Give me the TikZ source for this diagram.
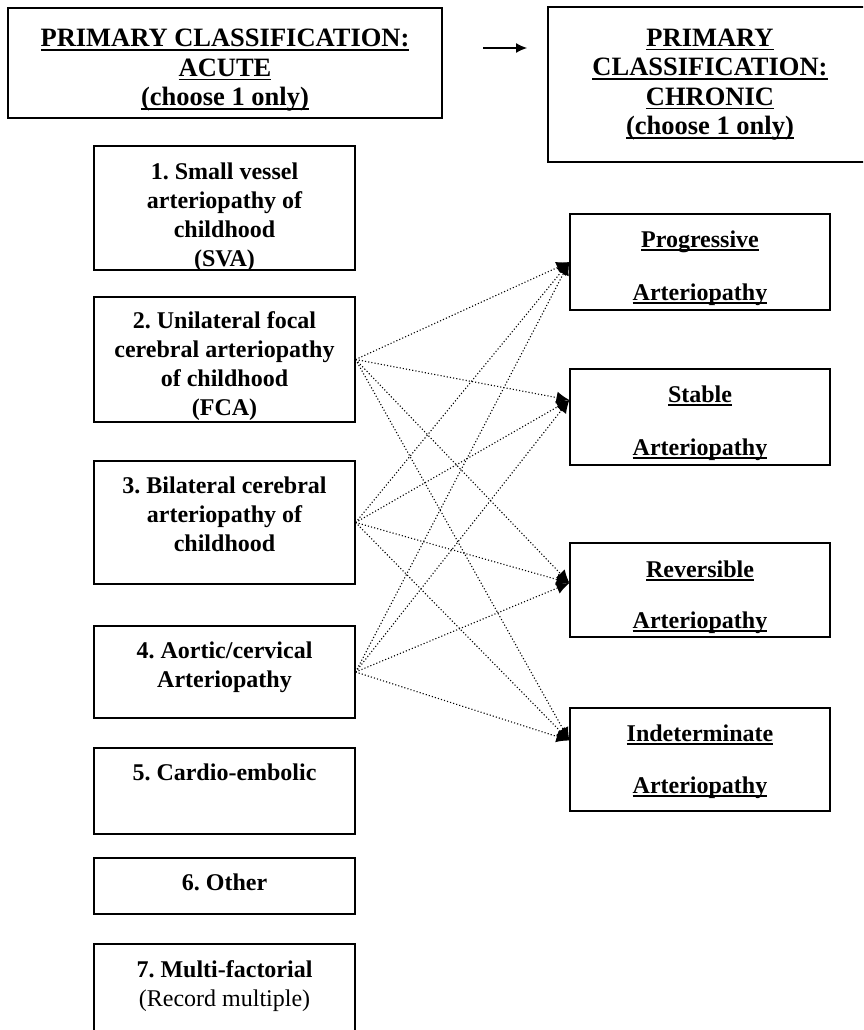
\documentclass[tikz,border=0pt]{standalone}
\usepackage{fontspec}
\setmainfont{Liberation Serif}
\usetikzlibrary{arrows.meta}
\frenchspacing
\newcommand{\undl}[1]{\setbox0\hbox{#1}\rlap{\rule[-4pt]{\wd0}{1.8pt}}\box0}
\tikzset{
  classbox/.style={draw, line width=1.2pt, inner sep=0pt},
  leftbox/.style={classbox, minimum width=261pt},
  rightbox/.style={classbox, minimum width=260pt},
  boxtext/.style={font=\bfseries\fontsize{24}{29}\selectfont, align=center, anchor=base, inner sep=0pt},
  headtext/.style={boxtext, font=\bfseries\fontsize{26.5}{29.5}\selectfont},
  link/.style={line width=1.1pt, dash pattern=on 1.1pt off 2.1pt, -{Latex[length=13pt,width=12pt]}},
}

\begin{document}
\begin{tikzpicture}[x=1pt,y=-1pt]
    \clip (0,0) rectangle (863,1030);
    \useasboundingbox (0,0) rectangle (863,1030);
    %Acute heading (text placed by its last baseline)
    \node[classbox, minimum width=434pt, minimum height=110pt] (acute) at (225,63) {};
    \node[headtext] (acutetext) at (225,106) {\undl{PRIMARY CLASSIFICATION:}\\\undl{ACUTE}\\\undl{(choose 1 only)}};
    %Chronic heading
    \node[classbox, minimum width=324pt, minimum height=155pt] (chronic) at (710,84.5) {};
    \node[headtext] (chronictext) at (710,135) {\undl{PRIMARY}\\\undl{CLASSIFICATION:}\\\undl{CHRONIC}\\\undl{(choose 1 only)}};
    \coordinate (headtail) at (483,48);
    \coordinate (headtip) at (527,48);
    \draw[line width=1.2pt, -{Latex[length=11pt,width=10pt]}] (headtail) -- (headtip);
    %Acute classes
    \node[leftbox, minimum height=124pt] (svabox) at (224.5,208) {};
    \node[boxtext] (svatext) at (224.5,266) {1. Small vessel\\arteriopathy of\\childhood\\(SVA)};
    \node[leftbox, minimum height=125pt] (fcabox) at (224.5,359.5) {};
    \node[boxtext] (fcatext) at (224.5,415) {2. Unilateral focal\\cerebral arteriopathy\\of childhood\\(FCA)};
    \node[leftbox, minimum height=123pt] (bilatbox) at (224.5,522.5) {};
    \node[boxtext] (bilattext) at (224.5,551) {3. Bilateral cerebral\\arteriopathy of\\childhood};
    \node[leftbox, minimum height=92pt] (aorticbox) at (224.5,672) {};
    \node[boxtext] (aortictext) at (224.5,687) {4. Aortic/cervical\\Arteriopathy};
    \node[leftbox, minimum height=86pt] (cardiobox) at (224.5,791) {};
    \node[boxtext] (cardiotext) at (224.5,780) {5. Cardio-embolic};
    \node[leftbox, minimum height=56pt] (otherbox) at (224.5,886) {};
    \node[boxtext] (othertext) at (224.5,890) {6. Other};
    \node[leftbox, minimum height=96pt] (multibox) at (224.5,992) {};
    \node[boxtext] (multitext) at (224.5,1006) {7. Multi-factorial\\\textmd{(Record multiple)}};
    %Chronic classes
    \node[rightbox, minimum height=96pt] (progbox) at (700,262) {};
    \node[boxtext] (progtext) at (700,300) {\undl{Progressive}\\[24pt]\undl{Arteriopathy}};
    \node[rightbox, minimum height=96pt] (stabbox) at (700,417) {};
    \node[boxtext] (stabtext) at (700,455) {\undl{Stable}\\[24pt]\undl{Arteriopathy}};
    \node[rightbox, minimum height=94pt] (revbox) at (700,590) {};
    \node[boxtext] (revtext) at (700,628) {\undl{Reversible}\\[22pt]\undl{Arteriopathy}};
    \node[rightbox, minimum height=103pt] (indbox) at (700,759.5) {};
    \node[boxtext] (indtext) at (700,793) {\undl{Indeterminate}\\[23pt]\undl{Arteriopathy}};
    %Links
    \foreach \src in {fcabox,bilatbox,aorticbox}{
        \draw[link] (\src.east) -- (progbox.west);
        \draw[link] (\src.east) -- ([yshift=17pt]stabbox.west);
        \draw[link] (\src.east) -- ([yshift=7pt]revbox.west);
        \draw[link] (\src.east) -- ([yshift=19pt]indbox.west);
    }
\end{tikzpicture}
\end{document}
